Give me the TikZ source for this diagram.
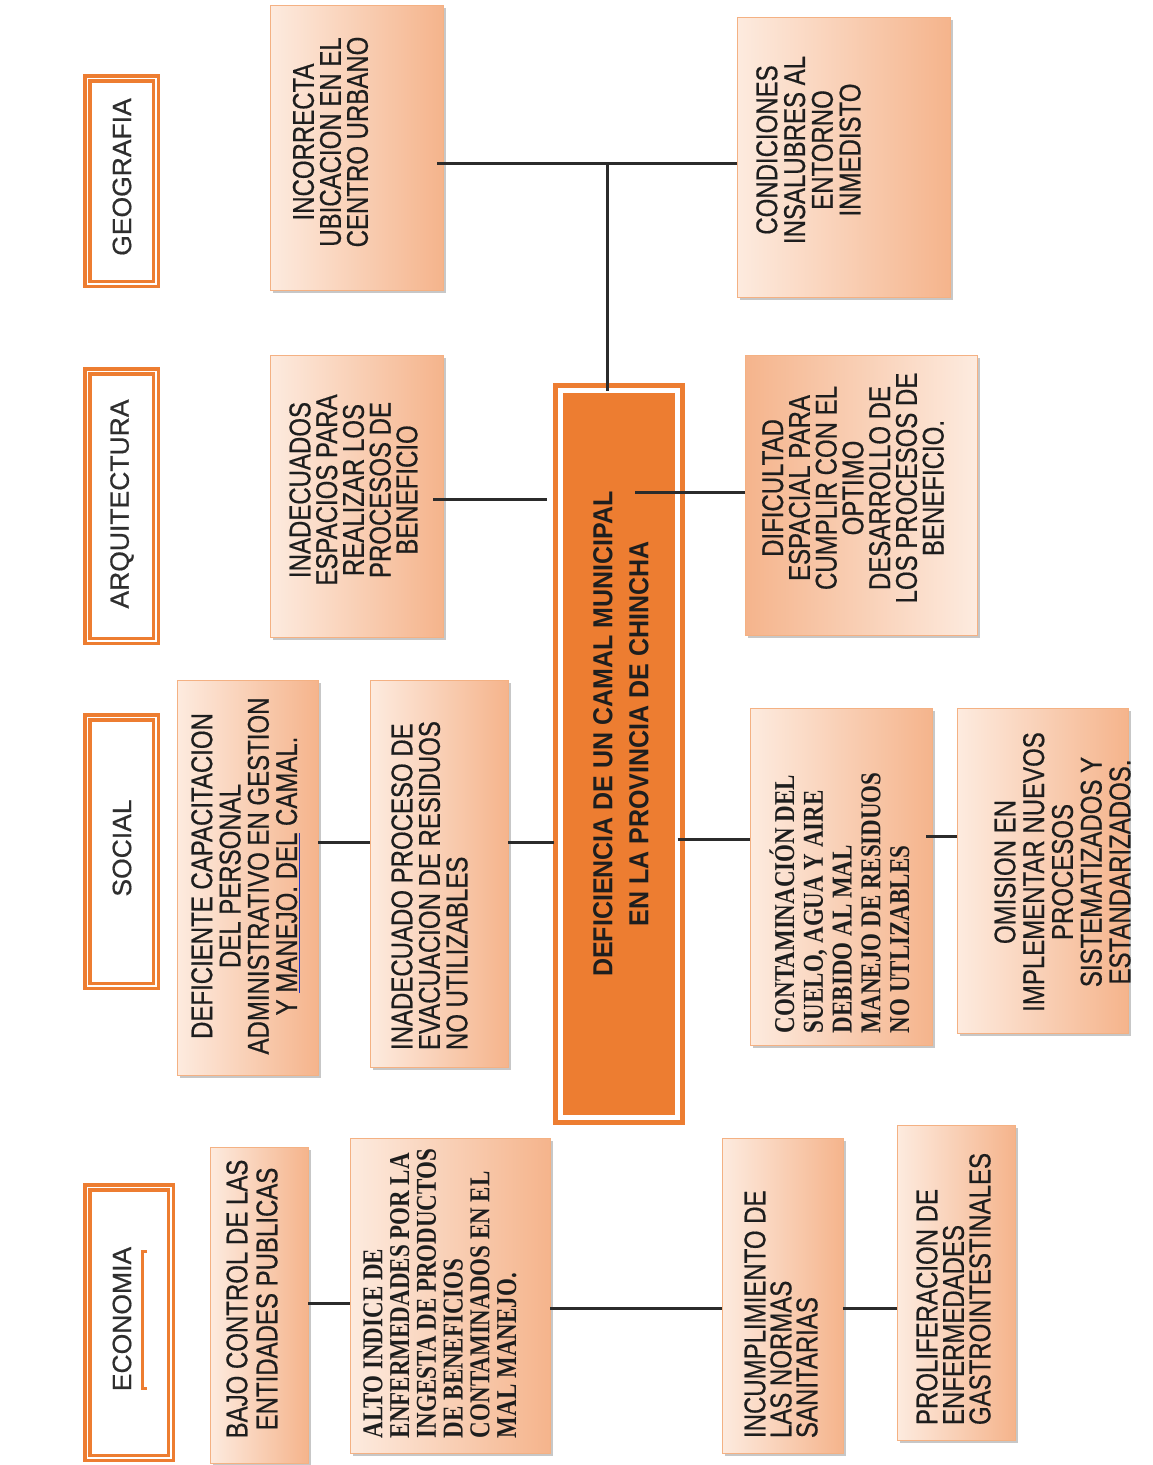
\documentclass[tikz,border=0pt]{standalone}
\usepackage{fontspec}
\setmainfont{Liberation Sans}
\newfontfamily\tnr{Liberation Serif}
\newfontfamily\bxfam{Liberation Sans}[FakeBold=0.6]
\usetikzlibrary{shadows}
\definecolor{orng}{HTML}{ED7D31}
\definecolor{pkL}{HTML}{FDEBDF}
\definecolor{pkB}{HTML}{F5B48C}
\definecolor{pkE}{HTML}{F4B183}
\definecolor{ink}{HTML}{1E1E1E}
\definecolor{catink}{HTML}{2E2E2E}
\definecolor{lnk}{HTML}{2B2B2B}
\definecolor{ulblue}{HTML}{2233CC}
\newcommand\bxf[1]{\bxfam\fontsize{24}{#1}\selectfont}
\newcommand\sxf[1]{\bfseries\tnr\fontsize{23}{#1}\selectfont}
\begin{document}
\begin{tikzpicture}[x=1pt,y=-1pt,
  cat/.style={draw=orng, double=white, double distance=1.5pt, line width=3.5pt, fill=white, inner sep=0pt, outer sep=0pt},
  core/.style={draw=orng, double=white, double distance=5pt, line width=5pt, fill=orng, inner sep=0pt, outer sep=0pt},
  peach/.style={draw=pkE, line width=1pt, left color=pkL, right color=pkB, inner sep=0pt, outer sep=0pt,
     drop shadow={shadow xshift=2.5pt, shadow yshift=-2.5pt, fill=black, opacity=0.22}},
  peachR/.style={peach, left color=pkB, right color=pkL},
  bt/.style={text=ink, inner sep=0pt, outer sep=0pt, xscale=1.25, rotate=90},
  ct/.style={text=catink, font=\bxfam\fontsize{26.5}{30}\selectfont, inner sep=0pt, rotate=90},
  conn/.style={draw=lnk, line width=3pt}]
\fill[white] (0,0) rectangle (1152,1465);
\useasboundingbox (0,0) rectangle (1152,1465);

% category boxes
\node[cat, minimum width=68.5pt, minimum height=205.5pt] (geo) at (121.5,181) {};
\node[cat, minimum width=68.5pt, minimum height=269.5pt] (arq) at (121.5,506) {};
\node[cat, minimum width=68.5pt, minimum height=268.5pt] (soc) at (121.5,851.5) {};
\node[cat, minimum width=83.5pt, minimum height=270.5pt] (eco) at (129,1322.5) {};
\node[ct] (tgeo) at (122,177) {GEOGRAFIA};
\node[ct] (tarq) at (122,504) {ARQUITECTURA};
\node[ct] (tsoc) at (122,848) {SOCIAL};
\node[ct] (teco) at (122,1319) {ECONOMIA};
\draw[orng, line width=3pt] (147,1251) -- (142.5,1251) -- (142.5,1388) -- (147,1388);

% central box
\node[core, minimum width=117pt, minimum height=727pt] (cen) at (619,754) {};
\node[text=ink, font=\bfseries\fontsize{25}{32.7}\selectfont, align=center, inner sep=0pt, xscale=1.1, rotate=90] (tcen) at (621,734)
  {DEFICIENCIA DE UN CAMAL MUNICIPAL\\EN LA PROVINCIA DE CHINCHA};

% peach boxes
\node[peach, minimum width=173pt, minimum height=285pt] (inc) at (356.5,147.5) {};
\node[peach, minimum width=213pt, minimum height=280pt] (con) at (843.5,157) {};
\node[peach, minimum width=173pt, minimum height=282pt] (ina) at (356.5,496) {};
\node[peachR, minimum width=232pt, minimum height=280pt] (dif) at (861,495) {};
\node[peach, minimum width=141pt, minimum height=395pt] (def) at (247.5,877.5) {};
\node[peach, minimum width=138pt, minimum height=387pt] (inp) at (439,873.5) {};
\node[peach, minimum width=182pt, minimum height=337pt] (cnt) at (841,876.5) {};
\node[peach, minimum width=171pt, minimum height=325pt] (omi) at (1042.5,870.5) {};
\node[peach, minimum width=98pt, minimum height=316pt] (baj) at (259,1305) {};
\node[peach, minimum width=200pt, minimum height=315pt] (alt) at (450,1295.5) {};
\node[peach, minimum width=121pt, minimum height=315pt] (icm) at (782.5,1295.5) {};
\node[peach, minimum width=118pt, minimum height=315pt] (pro) at (956,1282.5) {};

% texts
\node[bt, font=\bxf{21.6}, align=center] (tinc) at (330.5,142) {INCORRECTA\\UBICACION EN EL\\CENTRO URBANO};
\node[bt, font=\bxf{22.2}, align=center] (tcon) at (808.5,150) {CONDICIONES\\INSALUBRES AL\\ENTORNO\\INMEDISTO};
\node[bt, font=\bxf{21.4}, align=center] (tina) at (353.5,490) {INADECUADOS\\ESPACIOS PARA\\REALIZAR LOS\\PROCESOS DE\\BENEFICIO};
\node[bt, font=\bxf{21.4}, align=center] (tdif) at (853,488) {DIFICULTAD\\ESPACIAL PARA\\CUMPLIR CON EL\\OPTIMO\\DESARROLLO DE\\LOS PROCESOS DE\\BENEFICIO.};
\node[bt, font=\bxf{22.6}, align=center] (tdef) at (245.5,876) {DEFICIENTE CAPACITACION\\DEL PERSONAL\\ADMINISTRATIVO EN GESTION\\Y \rlap{\color{ulblue}\underline{\phantom{MANEJO. DEL}}}MANEJO. DEL CAMAL.};
\node[bt, font=\bxf{22}, align=left, anchor=west] (tinp) at (429.5,1050) {INADECUADO PROCESO DE\\EVACUACION DE RESIDUOS\\NO UTILIZABLES};
\node[bt, font=\sxf{23}, align=left, anchor=west] (tcnt) at (839.5,1033) {CONTAMINACIÓN DEL\\SUELO, AGUA Y AIRE\\DEBIDO AL MAL\\MANEJO DE RESIDUOS\\NO UTLIZABLES};
\node[bt, font=\bxf{23}, align=center] (tomi) at (1062.5,872) {OMISION EN\\IMPLEMENTAR NUEVOS\\PROCESOS\\SISTEMATIZADOS Y\\ESTANDARIZADOS.};
\node[bt, font=\bxf{24}, align=center] (tbaj) at (252,1299) {BAJO CONTROL DE LAS\\ENTIDADES PUBLICAS};
\node[bt, font=\sxf{21.4}, align=left, anchor=west] (talt) at (440,1438) {ALTO INDICE DE\\ENFERMEDADES POR LA\\INGESTA DE PRODUCTOS\\DE BENEFICIOS\\CONTAMINADOS EN EL\\MAL MANEJO.};
\node[bt, font=\bxf{20.8}, align=left, anchor=west] (ticm) at (781,1438) {INCUMPLIMIENTO DE\\LAS NORMAS\\SANITARIAS};
\node[bt, font=\bxf{21.2}, align=left, anchor=west] (tpro) at (953.5,1425) {PROLIFERACION DE\\ENFERMEDADES\\GASTROINTESTINALES};

% connectors
\coordinate (gj) at (607,163);
\draw[conn] ([xshift=-6pt]inc.east |- gj) -- (con.west |- gj);
\draw[conn] (gj) -- (gj |- cen.north);
\coordinate (al) at (547,499);
\draw[conn] ([xshift=-10pt]ina.east |- al) -- (al);
\coordinate (ar) at (635,492);
\draw[conn] (ar) -- (ar -| dif.west);
\coordinate (s1) at (0,842);
\draw[conn] (def.east |- s1) -- (inp.west |- s1);
\draw[conn] (inp.east |- s1) -- ([xshift=-7pt]cen.west |- s1);
\coordinate (s2) at (0,839);
\draw[conn] (cen.east |- s2) -- (cnt.west |- s2);
\coordinate (s3) at (0,836);
\draw[conn] ([xshift=-6pt]cnt.east |- s3) -- (omi.west |- s3);
\coordinate (e1) at (0,1303);
\draw[conn] (baj.east |- e1) -- (alt.west |- e1);
\coordinate (e2) at (0,1308);
\draw[conn] (alt.east |- e2) -- (icm.west |- e2);
\draw[conn] (icm.east |- e2) -- (pro.west |- e2);
\end{tikzpicture}
\end{document}
